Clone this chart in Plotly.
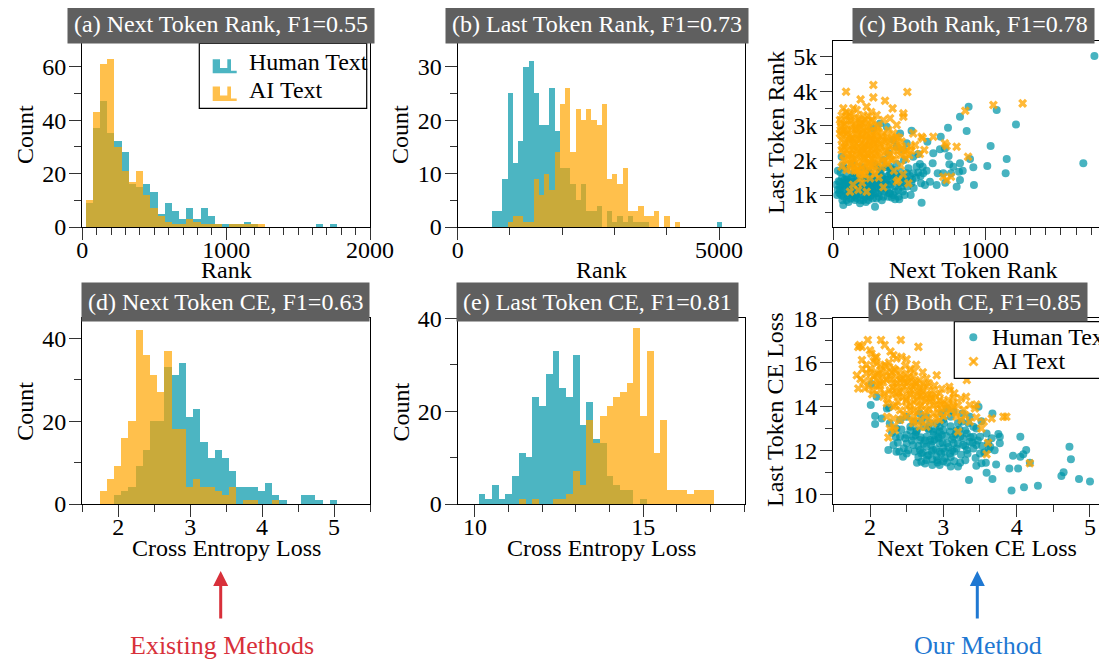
import plotly.graph_objects as go

W, H = 1107, 660          # browser window
OFF = 8                   # default page body margin
FW, FH = W - OFF, H - OFF  # figure size so that the figure ends at the window edge
FONT = "Liberation Serif, Times New Roman, serif"

# ---------------- data ----------------
# (a) Next token rank histograms
A_BIN_START, A_BIN_W = 25, 50
a_human = [9, 37, 47, 35, 32, 28, 16, 15, 16, 13, 5, 9, 6, 3, 7, 3, 7, 4, 1, 1, 1, 1, 2, 1, 0,
           0, 0, 0, 0, 0, 0, 0, 1, 0, 1]
a_ai = [10, 43, 61, 63, 30, 21, 17, 21, 12, 7, 4, 2, 1, 1, 3, 2, 1, 1, 1, 0, 1, 1, 1, 1, 1]

# (b) Last token rank histograms
B_BIN_START, B_BIN_W = 650, 100
b_human = [3, 3, 9, 25, 12, 16, 30, 31, 25, 19, 19, 26, 18, 11, 11, 8, 5, 8, 3, 3,
           4, 0, 3, 1, 2, 1, 2, 1, 1, 1, 0, 0, 0, 0, 0, 0, 0, 0, 0, 0, 0, 0, 0, 1]
b_ai = [0, 0, 0, 1, 2, 2, 1, 1, 9, 6, 10, 7, 14, 23, 26, 14, 22, 20, 22, 20,
        19, 23, 9, 10, 8, 11, 3, 3, 4, 2, 2, 3, 0, 2, 0, 1]

# (d) Next token CE histograms
D_BIN_START, D_BIN_W = 1.745, 0.1
d_human = [0, 0, 2, 3, 4, 9, 13, 20, 20, 33, 31, 34, 21, 23, 15, 11, 13, 11, 8, 4,
           4, 4, 3, 5, 2, 1, 0, 0, 2, 2, 1, 0, 1]
d_ai = [3, 6, 9, 16, 20, 42, 36, 31, 27, 37, 18, 18, 4, 6, 4, 4, 3, 2, 4, 0, 1, 1, 0, 0, 1]

# (e) Last token CE histograms
E_BIN_START, E_BIN_W = 10.1, 0.2
e_human = [2, 1, 4, 1, 2, 6, 11, 10, 23, 21, 28, 33, 25, 23, 32, 17, 22, 14, 13, 6, 4, 3, 3, 0, 1]
e_ai = [0, 0, 0, 0, 0, 0, 1, 0, 1, 0, 0, 1, 1, 2, 7, 4, 18, 13, 19, 21, 23, 24, 26, 38, 19,
        33, 11, 18, 3, 3, 3, 2, 3, 3, 3]

# (c) Both rank scatter: (next token rank, last token rank)
c_human_pts = [
    (1721, 5019), (1648, 1916), (1204, 3043), (1143, 2041), (1136, 1627), (1077, 3458), (1037, 2417),
    (1015, 1839), (927, 1289), (923, 1800), (901, 2041), (892, 3554), (879, 2851), (835, 3265),
    (835, 1916), (835, 1434), (853, 1704), (829, 1675), (776, 1627), (765, 1887), (760, 2128),
    (756, 2947), (738, 1357), (736, 2349), (708, 2687), (703, 2321), (688, 1627), (655, 1916),
    (637, 1386), (620, 2542), (615, 1704), (589, 1819), (582, 778), (578, 1337), (571, 1896),
    (560, 2186), (527, 1627), (516, 2860), (510, 1000), (495, 1771), (484, 2494), (466, 2012),
    (451, 1241), (440, 2783), (435, 875), (407, 875), (385, 930), (374, 1819), (363, 2205),
    (352, 2976), (319, 1482), (308, 3072), (275, 663), (264, 2928), (253, 1241), (242, 952),
    (220, 1289), (198, 855), (176, 759), (154, 904), (132, 1145), (110, 1048), (88, 855), (66, 711),
    (55, 2108), (44, 1386), (44, 1145), (66, 1337), (88, 1386), (110, 1289), (132, 1386), (154, 1241),
    (176, 1337), (198, 1386), (220, 1434), (242, 1337), (264, 1386), (286, 1434), (308, 1337),
    (330, 1241), (352, 1434), (374, 1627), (396, 1723), (418, 1578), (440, 1675), (462, 1530),
    (484, 1627), (352, 1819), (330, 2012), (308, 1723), (286, 1819), (418, 2398), (396, 2590),
    (462, 2301), (527, 2108), (549, 1819), (593, 1627), (604, 1289), (659, 2205), (681, 1289),
    (725, 1627), (791, 1819), (813, 1241), (88, 1530), (132, 1627), (176, 1530), (242, 1627),
    (286, 1241), (264, 1096), (297, 1048), (165, 1048), (143, 855), (231, 855), (330, 952),
    (374, 1048), (407, 1096), (60, 1250), (75, 1450), (100, 1200), (120, 1500), (140, 1300),
    (160, 1450), (185, 1200), (205, 1500), (225, 1150), (250, 1450), (270, 1250), (290, 1550),
    (315, 1150), (340, 1350), (360, 1550), (380, 1300), (400, 1500), (425, 1400), (470, 1350),
    (520, 1450), (40, 1050), (70, 950), (95, 1000), (115, 900), (150, 1000), (190, 1000),
    (210, 950), (240, 1050), (260, 900), (300, 950), (355, 1150),
    (20, 1300), (30, 1150), (35, 1400), (45, 1250), (52, 1000), (58, 1500), (68, 1150), (78, 1300),
    (82, 1050), (92, 1450), (102, 1350), (108, 1100), (118, 1250), (128, 1000), (138, 1500),
    (148, 1150), (158, 1350), (168, 1250), (172, 1100), (182, 1450), (192, 1300), (202, 1150),
    (212, 1350), (222, 1000), (232, 1250), (245, 1550), (255, 1150), (268, 1350), (278, 1050),
    (292, 1300), (302, 1450), (312, 1200), (322, 1550), (335, 1100), (345, 1450), (358, 1300),
    (368, 1050), (378, 1600), (390, 1400), (405, 1250), (415, 1450), (428, 1150), (438, 1350),
    (448, 1550), (458, 1100), (478, 1450), (488, 1250), (505, 1550), (515, 1350), (530, 1200),
    (545, 1500), (560, 1650), (575, 1550), (30, 1700), (48, 1650), (65, 1850), (85, 1750),
    (125, 1900), (145, 1650), (190, 1800), (230, 1700), (270, 1900), (310, 1650), (340, 1800),
    (380, 1750), (420, 1900), (25, 1000), (60, 850), (100, 800), (140, 950), (180, 850),
    (215, 800), (250, 1000), (285, 900), (320, 850), (360, 950), (395, 1000), (430, 950), (470, 1000),
]
c_ai_pts = [
    (84, 3988), (264, 4181), (264, 3824), (488, 3978), (341, 3728), (180, 3766), (220, 3554),
    (391, 3506), (462, 3361), (462, 3265), (1055, 3602), (1248, 3651), (870, 3439), (374, 3217),
    (66, 3506), (132, 3506), (154, 3458), (88, 3265), (198, 3313), (286, 3313), (330, 3169),
    (418, 3024), (527, 2783), (582, 2687), (659, 2687), (589, 2639), (736, 2494), (747, 2417),
    (813, 2398), (888, 2108), (571, 2186), (516, 2282), (725, 1530), (776, 1530), (747, 1434),
    (495, 1337), (429, 1434), (418, 1386), (330, 1222), (110, 1096), (165, 1145), (220, 1096),
    (242, 1482), (176, 1482), (55, 2976), (55, 2590), (55, 2301), (66, 2012), (55, 1819),
    (88, 2783), (110, 2590), (132, 2301), (154, 2783), (154, 2108), (176, 2590), (176, 2976),
    (198, 2398), (198, 2012), (220, 2783), (220, 2205), (242, 2590), (242, 2976), (264, 2398),
    (264, 2012), (286, 2783), (286, 2205), (308, 2494), (330, 2783), (352, 2590), (374, 2398),
    (396, 2783), (418, 2687), (440, 2398), (484, 2301), (99, 3169), (121, 2880), (143, 3072),
    (165, 3217), (187, 3072), (209, 3169), (231, 3265), (253, 3169), (77, 2880), (77, 2398),
    (99, 2108), (121, 1916), (143, 1819), (165, 1723), (187, 1819), (209, 1723), (231, 1916),
    (253, 1819), (275, 1723), (297, 1916), (319, 2108), (341, 2301), (363, 2108), (385, 2012),
    (99, 2494), (121, 2301), (143, 2590), (165, 2398), (187, 2205), (209, 2590), (231, 2398),
    (253, 2205), (275, 2494), (297, 2590), (319, 2687), (363, 2880), (407, 2590), (88, 1723),
    (209, 1578), (44, 2783), (44, 3169), (48, 2880), (70, 3050), (110, 2700), (130, 2450),
    (150, 2950), (170, 2250), (190, 2700), (210, 2450), (230, 2150), (250, 2650), (270, 2300),
    (120, 2050), (160, 1950), (200, 2100), (240, 1950), (280, 2050), (140, 1700), (180, 1650),
    (110, 3350), (250, 3400), (300, 2950), (350, 2700), (450, 2550), (540, 2450), (600, 2300),
    (50, 3100), (62, 2700), (75, 2500), (85, 3050), (95, 2850), (105, 2200), (115, 3150),
    (125, 2650), (135, 2400), (145, 2900), (155, 2300), (165, 2750), (175, 3050), (185, 2500),
    (195, 2850), (205, 2300), (215, 2650), (225, 2950), (235, 2450), (245, 2200), (255, 2750),
    (265, 2550), (275, 2150), (285, 2600), (295, 2350), (60, 2400), (70, 2200), (80, 2000),
    (90, 2300), (100, 2650), (112, 1900), (122, 2150), (138, 2050), (148, 2500), (158, 2650),
    (168, 1850), (178, 2150), (188, 2350), (198, 2750), (208, 2050), (218, 1900), (228, 2400),
    (238, 2700), (248, 2050), (258, 2450), (268, 1850), (278, 2700), (290, 2850), (305, 2250),
    (315, 2400), (325, 2000), (335, 2550), (345, 1950), (355, 2300), (365, 2500), (375, 2150),
    (385, 2650), (395, 2300), (405, 2050), (415, 2450), (425, 2250), (435, 2650), (445, 2150),
    (455, 2350), (470, 2200), (480, 2050), (500, 2150), (510, 2400), (55, 3300), (65, 2850),
    (85, 3400), (105, 3300), (125, 3000), (145, 3250), (165, 2900), (185, 3150), (205, 2900),
    (225, 3100), (245, 2850), (265, 3150), (285, 3000), (115, 1750), (155, 1700), (195, 1600),
    (235, 1750), (275, 1600), (320, 1800), (360, 1900), (400, 1700), (445, 1850), (130, 1300),
    (190, 1350), (300, 1500), (460, 1600),
]

# (f) Both CE scatter: (next token CE, last token CE)
f_human_pts = [
    (5.0, 10.58), (4.85, 10.70), (4.72, 12.17), (4.74, 11.59), (4.64, 11.0), (4.61, 10.83),
    (4.29, 10.39), (4.10, 10.32), (3.93, 10.17), (4.05, 12.62), (4.13, 12.02), (4.09, 11.82),
    (4.05, 11.71), (4.02, 11.18), (3.90, 11.18), (4.18, 11.44), (3.95, 11.76), (3.72, 11.36),
    (3.67, 10.70), (3.59, 10.98), (3.35, 10.65), (3.77, 12.62), (3.75, 12.74), (3.66, 12.55),
    (3.67, 13.68), (3.77, 12.32), (3.61, 12.35), (3.64, 12.17), (3.58, 11.44), (3.52, 11.41),
    (3.48, 13.98), (3.52, 13.33), (3.41, 13.08), (3.36, 13.53), (3.26, 13.68), (3.25, 13.30),
    (3.18, 12.92), (3.14, 12.62), (3.10, 13.53), (3.05, 13.91), (2.98, 13.68), (3.01, 13.23),
    (2.93, 12.62), (2.86, 12.85), (2.82, 12.47), (2.77, 12.17), (2.70, 11.86), (2.64, 11.44),
    (2.85, 11.33), (2.95, 11.33), (3.10, 11.26), (3.23, 11.44), (3.20, 11.26), (3.32, 12.02),
    (3.41, 12.09), (3.50, 11.86), (3.45, 12.24), (3.36, 12.39), (3.27, 12.24), (3.18, 12.09),
    (3.09, 11.86), (3.02, 11.64), (2.91, 11.71), (2.80, 11.79), (2.68, 12.02), (2.59, 12.24),
    (2.50, 12.32), (2.50, 11.86), (2.36, 11.94), (2.25, 12.02), (2.32, 12.24), (2.41, 12.62),
    (2.36, 13.0), (2.27, 13.23), (2.26, 13.95), (2.23, 13.91), (2.16, 13.45), (2.07, 13.56),
    (2.07, 13.20), (2.01, 14.06), (2.02, 15.02), (2.09, 14.44), (2.55, 13.08), (2.64, 12.92),
    (2.73, 13.08), (2.82, 13.23), (2.91, 13.23), (3.0, 12.92), (3.09, 12.85), (2.77, 12.62),
    (2.68, 12.47), (2.59, 12.62), (2.95, 12.32), (3.05, 12.32), (3.14, 12.32), (2.86, 12.02),
    (2.95, 11.94), (2.77, 11.56), (2.70, 11.48), (2.45, 11.71), (2.41, 13.38), (2.5, 13.53),
    (2.68, 13.68), (2.77, 13.53), (3.23, 12.62), (3.32, 12.77), (3.41, 12.62), (3.5, 12.62),
    (3.59, 12.77), (3.34, 13.23), (3.14, 13.76), (2.95, 13.08), (2.46, 12.1), (2.62, 12.7),
    (2.73, 12.3), (2.88, 12.5), (3.0, 12.1), (3.12, 12.0), (2.84, 11.95), (2.66, 12.2),
    (2.55, 12.9), (3.22, 12.95), (2.98, 12.7), (2.35, 12.6), (3.05, 11.45), (2.92, 11.55),
    (2.3, 12.8), (2.38, 12.35), (2.43, 12.95), (2.48, 12.55), (2.52, 12.0), (2.57, 12.45),
    (2.61, 11.95), (2.63, 12.85), (2.66, 11.7), (2.69, 12.6), (2.72, 11.9), (2.75, 12.45),
    (2.78, 11.75), (2.8, 12.95), (2.83, 12.25), (2.85, 11.6), (2.87, 12.7), (2.9, 12.05),
    (2.92, 11.45), (2.94, 12.55), (2.97, 11.85), (2.99, 12.35), (3.02, 11.95), (3.04, 12.65),
    (3.07, 12.15), (3.1, 11.7), (3.12, 12.5), (3.15, 11.95), (3.17, 12.75), (3.2, 12.3),
    (3.24, 11.8), (3.27, 12.55), (3.3, 12.2), (3.33, 11.85), (3.37, 12.6), (3.4, 12.35),
    (3.44, 11.65), (3.47, 12.45), (3.53, 12.2), (3.56, 11.9), (3.62, 12.05), (3.7, 12.0),
    (2.6, 13.3), (2.7, 13.35), (2.8, 13.0), (2.9, 12.95), (3.0, 13.4), (3.1, 13.1), (3.2, 13.25),
    (3.3, 12.9), (3.45, 13.0), (2.5, 12.7), (2.4, 11.95), (2.75, 11.4), (3.0, 11.5), (3.15, 11.5),
    (3.3, 11.55), (3.45, 11.3), (2.85, 12.4), (2.95, 12.85),
]
f_ai_pts = [
    (1.86, 16.79), (1.89, 16.71), (1.97, 17.02), (1.84, 16.71), (2.15, 17.02), (2.2, 16.79),
    (2.42, 17.02), (2.66, 16.71), (2.0, 16.56), (2.02, 16.41), (1.89, 16.11), (2.09, 16.26),
    (2.32, 16.33), (2.36, 16.18), (2.43, 16.26), (2.09, 15.95), (1.82, 15.42), (1.84, 14.82),
    (1.93, 14.82), (1.95, 15.5), (2.02, 15.58), (2.14, 15.65), (2.23, 15.8), (2.32, 15.73),
    (2.41, 15.65), (2.5, 15.5), (2.59, 15.35), (2.68, 15.2), (2.77, 15.27), (2.91, 15.42),
    (2.77, 14.89), (2.86, 14.74), (2.95, 14.59), (3.08, 14.89), (3.09, 14.74), (3.32, 15.2),
    (3.31, 14.44), (3.14, 14.41), (3.24, 14.36), (3.36, 14.06), (3.45, 14.09), (3.43, 13.91),
    (3.82, 13.53), (3.86, 13.53), (3.66, 13.45), (3.52, 13.0), (3.36, 13.3), (3.25, 13.38),
    (3.18, 13.53), (3.05, 13.68), (2.95, 13.38), (2.86, 13.23), (2.77, 13.08), (2.68, 13.08),
    (2.59, 13.23), (2.5, 13.53), (2.32, 13.08), (2.27, 13.0), (2.34, 12.92), (2.25, 12.59),
    (3.2, 12.85), (3.61, 12.35), (3.59, 11.82), (4.18, 11.41), (2.14, 15.05), (2.23, 15.2),
    (2.32, 15.05), (2.41, 15.2), (2.5, 15.05), (2.59, 14.89), (2.68, 14.74), (2.27, 14.74),
    (2.36, 14.59), (2.45, 14.44), (2.55, 14.52), (2.64, 14.29), (2.73, 14.36), (2.82, 14.21),
    (2.91, 14.06), (3.0, 14.21), (2.18, 14.44), (2.23, 14.14), (2.32, 13.98), (2.41, 13.83),
    (2.5, 13.98), (2.59, 13.83), (2.68, 13.98), (2.77, 13.83), (2.86, 13.68), (2.05, 15.35),
    (2.09, 15.2), (2.0, 15.2), (1.91, 15.12), (2.18, 15.35), (2.27, 15.42), (2.36, 15.35),
    (2.45, 15.27), (2.55, 15.2), (2.64, 15.05), (2.73, 14.97), (2.14, 14.74), (2.05, 14.74),
    (2.09, 14.97), (2.36, 14.89), (2.46, 14.9), (2.55, 14.74), (2.64, 14.59), (2.82, 14.52),
    (2.95, 14.29), (3.05, 14.06), (3.14, 13.98), (2.23, 13.53), (2.32, 13.45), (2.41, 13.38),
    (2.59, 13.38), (2.2, 15.9), (2.3, 15.55), (2.48, 15.85), (2.6, 15.6), (2.12, 15.5),
    (2.38, 14.2), (2.55, 14.1), (2.7, 14.5), (2.85, 14.4), (2.96, 13.9), (1.98, 14.9),
    (1.95, 15.9), (2.0, 15.7), (2.05, 16.05), (2.1, 15.45), (2.15, 15.85), (2.18, 15.1),
    (2.22, 15.55), (2.26, 16.0), (2.28, 15.25), (2.31, 14.85), (2.34, 15.65), (2.37, 15.05),
    (2.39, 14.45), (2.42, 15.4), (2.44, 14.75), (2.47, 15.1), (2.49, 14.25), (2.52, 15.3),
    (2.54, 14.6), (2.57, 14.95), (2.6, 14.2), (2.62, 15.1), (2.65, 14.45), (2.67, 14.85),
    (2.7, 14.05), (2.72, 14.65), (2.75, 14.25), (2.78, 14.55), (2.8, 13.9), (2.83, 14.35),
    (2.87, 14.05), (2.9, 14.45), (2.93, 13.75), (2.97, 14.1), (3.0, 13.55), (3.03, 13.95),
    (3.07, 14.3), (3.1, 13.85), (3.13, 14.15), (3.17, 13.7), (3.2, 14.05), (3.28, 13.85),
    (2.12, 14.95), (2.2, 14.6), (2.25, 14.3), (2.3, 14.55), (2.35, 14.05), (2.4, 14.65),
    (2.45, 13.65), (2.5, 14.35), (2.55, 13.85), (2.6, 13.55), (2.65, 13.75), (2.7, 13.35),
    (2.75, 13.6), (2.8, 13.4), (2.9, 13.5), (1.9, 15.7), (1.87, 15.25), (2.03, 14.55),
    (2.07, 16.2), (2.28, 16.5), (2.5, 16.15), (2.55, 15.7), (2.63, 15.9), (2.72, 15.55),
    (2.8, 15.05), (2.88, 14.95), (2.98, 14.8), (3.15, 14.6), (3.3, 13.6), (3.45, 13.5), (3.55, 13.3),
]

SERIES = ["Human Text", "AI Text"]

# ---------------- styling ----------------
TEAL_H = "rgba(0,149,168,0.70)"
ORNG_H = "rgba(255,165,0,0.70)"
TEAL_S = "rgba(0,150,168,0.72)"
ORNG_S = "rgba(255,165,0,0.78)"
RED = "#d8303a"
BLUE = "#1f78d2"


def px_x(p):
    return (p - OFF) / FW


def px_y(p):
    return 1 - (p - OFF) / FH


fig = go.Figure()


def hist(ax, start, w, counts, color, name):
    xs = [start + w * (i + 0.5) for i in range(len(counts))]
    fig.add_trace(go.Bar(x=xs, y=counts, width=w, name=name, showlegend=False,
                         marker=dict(color=color, line=dict(width=0)),
                         xaxis="x" + ax, yaxis="y" + ax))


hist("", A_BIN_START, A_BIN_W, a_human, TEAL_H, SERIES[0])
hist("", A_BIN_START, A_BIN_W, a_ai, ORNG_H, SERIES[1])
hist("2", B_BIN_START, B_BIN_W, b_human, TEAL_H, SERIES[0])
hist("2", B_BIN_START, B_BIN_W, b_ai, ORNG_H, SERIES[1])
hist("4", D_BIN_START, D_BIN_W, d_human, TEAL_H, SERIES[0])
hist("4", D_BIN_START, D_BIN_W, d_ai, ORNG_H, SERIES[1])
hist("5", E_BIN_START, E_BIN_W, e_human, TEAL_H, SERIES[0])
hist("5", E_BIN_START, E_BIN_W, e_ai, ORNG_H, SERIES[1])


def scat(ax, pts, color, symbol, name):
    fig.add_trace(go.Scatter(x=[p[0] for p in pts], y=[p[1] for p in pts], mode="markers",
                             name=name, showlegend=False,
                             marker=dict(color=color, symbol=symbol, size=8, line=dict(width=0)),
                             xaxis="x" + ax, yaxis="y" + ax))


scat("3", c_human_pts, TEAL_S, "circle", SERIES[0])
scat("3", c_ai_pts, ORNG_S, "x", SERIES[1])
scat("6", f_human_pts, TEAL_S, "circle", SERIES[0])
scat("6", f_ai_pts, ORNG_S, "x", SERIES[1])


def axis(dom, rng, vals, texts=None, minor_dtick=None, anchor=None, mirror=True, standoff=0):
    d = dict(domain=dom, range=rng, anchor=anchor, showline=True, linecolor="black",
             linewidth=1.3, mirror=mirror, ticks="outside", ticklen=12, tickwidth=1.3,
             tickcolor="#333", showgrid=False, zeroline=False, tickmode="array",
             tickvals=vals, ticktext=texts if texts else [str(v) for v in vals],
             tickfont=dict(family=FONT, size=24, color="black"), fixedrange=True,
             automargin=False, ticklabelstandoff=standoff)
    if minor_dtick:
        d["minor"] = dict(ticks="outside", ticklen=7, tickwidth=1.2, tickcolor="#333",
                          tickmode="linear", tick0=0, dtick=minor_dtick, showgrid=False)
    return d


row1 = [px_y(227), px_y(41)]
row2 = [px_y(504), px_y(318.3)]
col_a = [px_x(82.3), px_x(370)]
col_b = [px_x(457.7), px_x(745)]
col_c = [px_x(833.3), 1.0]
XS, YS = -11, -2

lay = dict(
    xaxis=axis(col_a, [0, 2000], [0, 1000, 2000], minor_dtick=100, anchor="y", standoff=XS),
    yaxis=axis(row1, [0, 69.6], [0, 20, 40, 60], minor_dtick=10, anchor="x", standoff=YS),
    xaxis2=axis(col_b, [0, 5497], [0, 5000], minor_dtick=1000, anchor="y2", standoff=XS),
    yaxis2=axis(row1, [0, 34.8], [0, 10, 20, 30], minor_dtick=5, anchor="x2", standoff=YS),
    xaxis3=axis(col_c, [0, 1804], [0, 1000], minor_dtick=100, anchor="y3", standoff=XS),
    yaxis3=axis(row1, [75, 5455], [1000, 2000, 3000, 4000, 5000], ["1k", "2k", "3k", "4k", "5k"],
                minor_dtick=500, anchor="x3", mirror=False, standoff=YS),
    xaxis4=axis(col_a, [1.5, 5.5], [2, 3, 4, 5], minor_dtick=0.5, anchor="y4", standoff=XS),
    yaxis4=axis(row2, [0, 44.9], [0, 20, 40], minor_dtick=10, anchor="x4", standoff=YS),
    xaxis5=axis(col_b, [9.49, 18.02], [10, 15], minor_dtick=1, anchor="y5", standoff=XS),
    yaxis5=axis(row2, [0, 40.05], [0, 20, 40], minor_dtick=10, anchor="x5", standoff=YS),
    xaxis6=axis(col_c, [1.4995, 5.232], [2, 3, 4, 5], minor_dtick=0.5, anchor="y6", standoff=XS),
    yaxis6=axis(row2, [9.559, 18.01], [10, 12, 14, 16, 18], minor_dtick=1, anchor="x6",
                mirror=False, standoff=YS),
)
fig.update_layout(**lay)

ann = []
shapes = []
titles = [
    ("(a) Next Token Rank, F1=0.55", 221, 23.5),
    ("(b) Last Token Rank, F1=0.73", 597, 23.5),
    ("(c) Both Rank, F1=0.78", 973.5, 23.5),
    ("(d) Next Token CE, F1=0.63", 225, 301.7),
    ("(e) Last Token CE, F1=0.81", 597.5, 301.7),
    ("(f) Both CE, F1=0.85", 978, 301.7),
]
for t, x, y in titles:
    ann.append(dict(text=t, x=px_x(x), y=px_y(y), xref="paper", yref="paper", showarrow=False,
                    xanchor="center", yanchor="middle", bgcolor="#5f5f5f", borderpad=6,
                    font=dict(family=FONT, size=24, color="white")))

axis_titles = [
    ("Count", 25, 135, -90), ("Rank", 226, 270, 0),
    ("Count", 400, 135, -90), ("Rank", 601.7, 270, 0),
    ("Last Token Rank", 776, 133, -90), ("Next Token Rank", 973, 270, 0),
    ("Count", 25, 411.7, -90), ("Cross Entropy Loss", 226, 548, 0),
    ("Count", 400.7, 411.7, -90), ("Cross Entropy Loss", 601.7, 548, 0),
    ("Last Token CE Loss", 775, 410, -90), ("Next Token CE Loss", 976.7, 548, 0),
]
for t, x, y, ang in axis_titles:
    ann.append(dict(text=t, x=px_x(x), y=px_y(y), xref="paper", yref="paper", showarrow=False,
                    xanchor="center", yanchor="middle", textangle=ang,
                    font=dict(family=FONT, size=24, color="black")))

# ---- legend (a): histogram patches ----
shapes.append(dict(type="rect", xref="paper", yref="paper", x0=px_x(199.3), x1=px_x(366.7),
                   y0=px_y(108.3), y1=px_y(43.3), line=dict(color="black", width=1.2),
                   fillcolor="white", layer="above"))


def step_patch(x0, top, bottom, color):
    mid = top + (bottom - top) * 0.62
    low = top + (bottom - top) * 0.82
    pts = [(x0, bottom), (x0, top), (x0 + 7.3, top), (x0 + 7.3, mid), (x0 + 14.6, mid),
           (x0 + 14.6, top), (x0 + 18.3, top), (x0 + 18.3, low), (x0 + 24, low), (x0 + 24, bottom)]
    path = "M " + " L ".join(f"{px_x(a):.5f},{px_y(b):.5f}" for a, b in pts) + " Z"
    shapes.append(dict(type="path", xref="paper", yref="paper", path=path, fillcolor=color,
                       line=dict(width=0), layer="above"))


step_patch(212.7, 59.3, 73.3, TEAL_H)
step_patch(212.7, 86.5, 101, ORNG_H)
for label, y in zip(SERIES, [62, 90]):
    ann.append(dict(text=label, x=px_x(247), y=px_y(y), xref="paper", yref="paper",
                    showarrow=False, xanchor="left", yanchor="middle",
                    font=dict(family=FONT, size=24, color="black")))

# ---- legend (f): scatter markers ----
shapes.append(dict(type="rect", xref="paper", yref="paper", x0=px_x(954.3), x1=1.02,
                   y0=px_y(378.3), y1=px_y(321.7), line=dict(color="black", width=1.2),
                   fillcolor="white", layer="above"))
shapes.append(dict(type="circle", xref="paper", yref="paper", x0=px_x(969.3), x1=px_x(977.3),
                   y0=px_y(341.3), y1=px_y(333.3), fillcolor=TEAL_S, line=dict(width=0),
                   layer="above"))
for (xa, ya, xb, yb) in [(969.5, 357.5, 977.5, 365.5), (969.5, 365.5, 977.5, 357.5)]:
    shapes.append(dict(type="line", xref="paper", yref="paper", x0=px_x(xa), y0=px_y(ya),
                       x1=px_x(xb), y1=px_y(yb), line=dict(color=ORNG_S, width=3),
                       layer="above"))
for label, y in zip(SERIES, [337, 361]):
    ann.append(dict(text=label, x=px_x(989.5), y=px_y(y), xref="paper", yref="paper",
                    showarrow=False, xanchor="left", yanchor="middle",
                    font=dict(family=FONT, size=24, color="black")))

# ---- bottom arrows ----
for x, color, label in [(220.7, RED, "Existing Methods"), (977.3, BLUE, "Our Method")]:
    ann.append(dict(text="", x=px_x(x), y=px_y(571), xref="paper", yref="paper", showarrow=True,
                    ax=0, ay=49, arrowhead=2, arrowsize=1.0, arrowwidth=3, arrowcolor=color))
    ann.append(dict(text=label, x=px_x(x + 1), y=px_y(645), xref="paper", yref="paper",
                    showarrow=False, xanchor="center", yanchor="middle",
                    font=dict(family=FONT, size=26, color=color)))

fig.update_layout(
    annotations=ann,
    shapes=shapes,
    width=FW, height=FH, autosize=False,
    margin=dict(l=0, r=0, t=0, b=0, autoexpand=False),
    paper_bgcolor="white", plot_bgcolor="white",
    barmode="overlay", bargap=0, showlegend=False,
    font=dict(family=FONT, size=23, color="black"),
)

fig.write_html("out.html")
